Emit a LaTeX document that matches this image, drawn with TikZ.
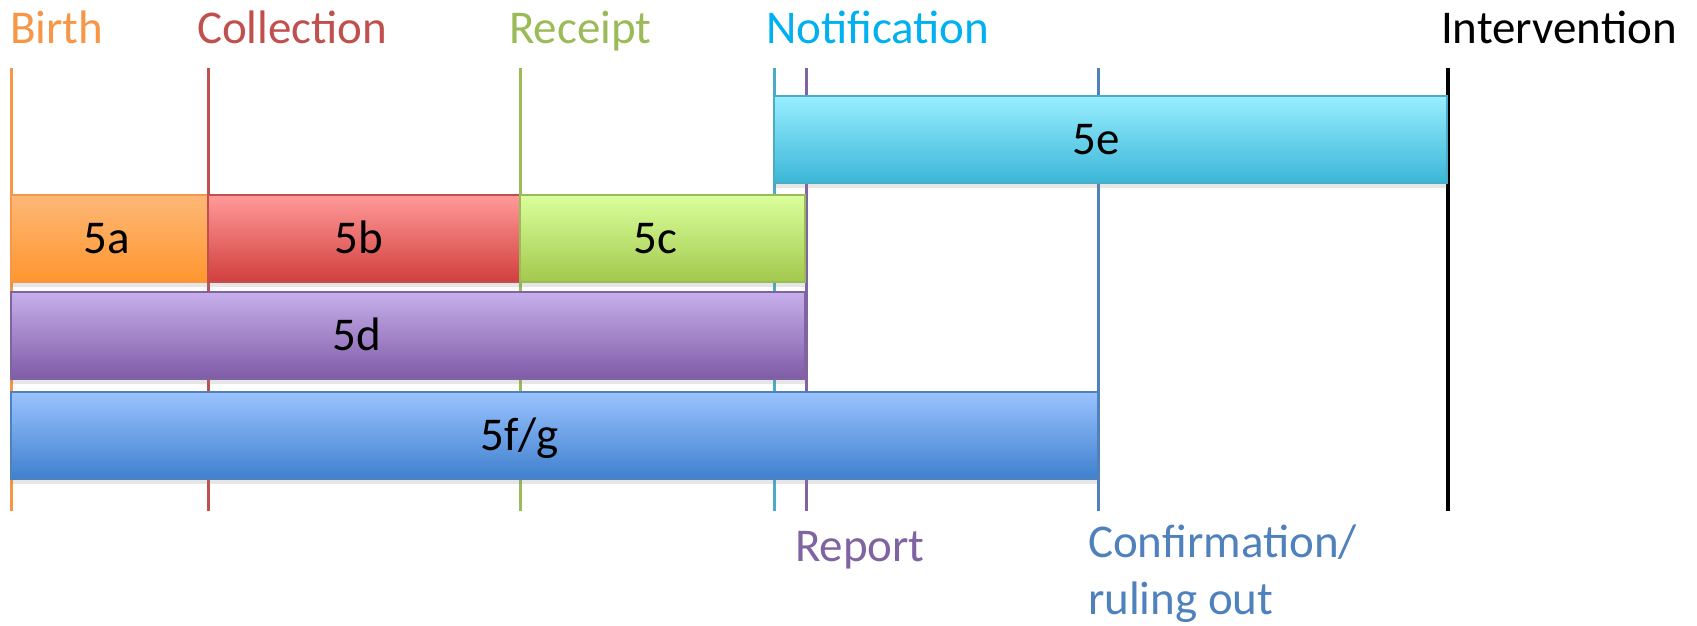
\documentclass[tikz,border=0pt]{standalone}
\usepackage{fontspec}
\setmainfont{Carlito}
\usepackage{tikz}
\usetikzlibrary{shapes,positioning,shadows}
\definecolor{birthc}{HTML}{F79646}
\definecolor{collectc}{HTML}{C0504D}
\definecolor{receiptc}{HTML}{9BBB59}
\definecolor{notifyc}{HTML}{4BACC6}
\definecolor{notifytext}{HTML}{00B0F0}
\definecolor{reportc}{HTML}{8064A2}
\definecolor{confirmc}{HTML}{4F81BD}
\definecolor{atop}{HTML}{FDB877}
\definecolor{abot}{HTML}{FF962E}
\definecolor{btop}{HTML}{FF9A99}
\definecolor{bbot}{HTML}{D13F3D}
\definecolor{ctop}{HTML}{DAFF9C}
\definecolor{cbot}{HTML}{A2C84D}
\definecolor{dtop}{HTML}{C6AFEB}
\definecolor{dbot}{HTML}{7F5BA6}
\definecolor{etop}{HTML}{98EEFF}
\definecolor{ebot}{HTML}{3BB6D7}
\definecolor{fgtop}{HTML}{9AC3FF}
\definecolor{fgbot}{HTML}{3F80CD}

\begin{document}
\begin{tikzpicture}[x=1pt, y=-1pt, inner sep=0pt, outer sep=0pt,
        font=\fontsize{47}{57}\selectfont]
      \tikzstyle{tick} = [line width=3pt]
      \tikzstyle{bartext} = [text height=30pt, text depth=0pt, text=black]
      \tikzstyle{bar} = [rectangle, anchor=north west, line width=2pt, minimum height=87pt,
        drop shadow={opacity=0.2, shadow xshift=0pt, shadow yshift=-5pt}]
      \useasboundingbox (0,0) rectangle (1697,625);
      \node (birth) [anchor=base west, text=birthc] at (10,43) {Birth};
      \node (collection) [anchor=base west, text=collectc] at (197,43) {Collection};
      \node (receipt) [anchor=base west, text=receiptc] at (509,43) {Receipt};
      \node (notification) [anchor=base west, text=notifytext] at (766,43) {Notification};
      \node (intervention) [anchor=base west, text=black] at (1441,43) {Intervention};
      \node (report) [anchor=base west, text=reportc] at (795,561) {Report};
      \node (confirmation) [anchor=base west, align=left, text=confirmc] at (1088,614) {Confirmation/\\ruling out};
      \coordinate (birthT) at (11,68);
      \coordinate (birthB) at (11,511);
      \coordinate (collectionT) at (208,68);
      \coordinate (collectionB) at (208,511);
      \coordinate (receiptT) at (520,68);
      \coordinate (receiptB) at (520,511);
      \coordinate (notificationT) at (774,68);
      \coordinate (notificationB) at (774,511);
      \coordinate (reportT) at (806,68);
      \coordinate (reportB) at (806,511);
      \coordinate (confirmationT) at (1098,68);
      \coordinate (confirmationB) at (1098,511);
      \coordinate (interventionT) at (1448,68);
      \coordinate (interventionB) at (1448,511);
      \draw[tick, birthc] (birthT) -- (birthB);
      \draw[tick, collectc] (collectionT) -- (collectionB);
      \draw[tick, receiptc] (receiptT) -- (receiptB);
      \draw[tick, notifyc] (notificationT) -- (notificationB);
      \draw[tick, reportc] (reportT) -- (reportB);
      \draw[tick, confirmc] (confirmationT) -- (confirmationB);
      \draw[line width=4pt, black] (interventionT) -- (interventionB);
      \node (bar5e) [bar, draw=notifyc, top color=etop, bottom color=ebot,
        minimum width=673pt, label={[bartext, xshift=-14pt]center:5e}] at (774,96) {};
      \node (bar5a) [bar, draw=birthc, top color=atop, bottom color=abot,
        minimum width=197pt, label={[bartext, xshift=-3pt]center:5a}] at (11,195) {};
      \node (bar5b) [bar, draw=collectc, top color=btop, bottom color=bbot,
        minimum width=312pt, label={[bartext, xshift=-5pt]center:5b}] at (208,195) {};
      \node (bar5c) [bar, draw=receiptc, top color=ctop, bottom color=cbot,
        minimum width=285pt, label={[bartext, xshift=-7pt]center:5c}] at (520,195) {};
      \node (bar5d) [bar, draw=reportc, top color=dtop, bottom color=dbot,
        minimum width=794pt, label={[bartext, xshift=-51pt]center:5d}] at (11,292) {};
      \node (bar5fg) [bar, draw=confirmc, top color=fgtop, bottom color=fgbot,
        minimum width=1087pt, label={[bartext, xshift=-35pt]center:5f/g}] at (11,392) {};
    \end{tikzpicture}
\end{document}
